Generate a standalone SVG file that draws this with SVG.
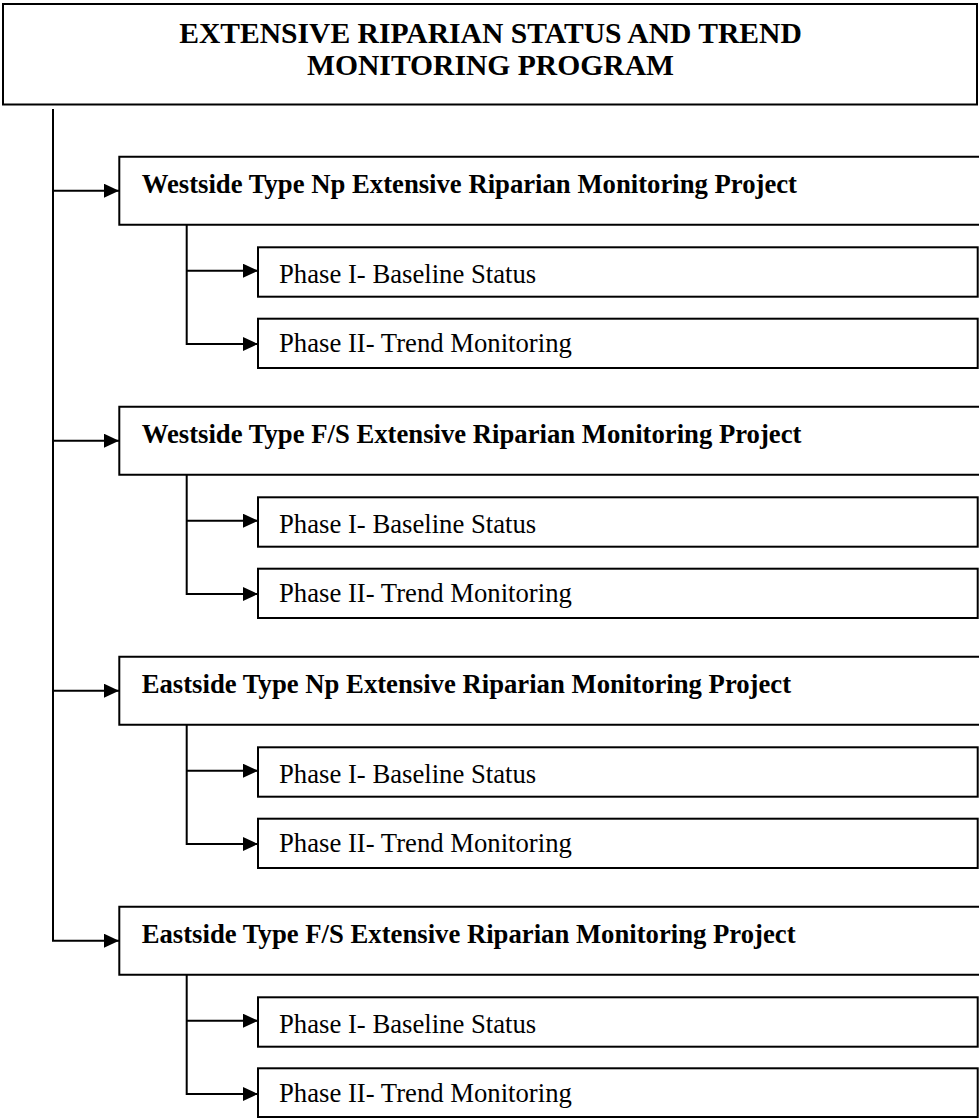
<svg xmlns="http://www.w3.org/2000/svg" width="979" height="1118" viewBox="0 0 979 1118">
<defs>
<style>
.box{fill:#fff;stroke:#000;stroke-width:2}
.open{fill:none;stroke:#000;stroke-width:2}
.con{fill:none;stroke:#000;stroke-width:2}
.title{font-family:"Liberation Serif","Times New Roman",serif;font-weight:bold;font-size:29.6px;fill:#000}
.proj{font-family:"Liberation Serif","Times New Roman",serif;font-weight:bold;font-size:26.7px;fill:#000}
.phase{font-family:"Liberation Serif","Times New Roman",serif;font-size:26.7px;fill:#000}
</style>
<marker id="ah" markerUnits="userSpaceOnUse" markerWidth="15" markerHeight="14" refX="15" refY="7" orient="auto">
<path d="M0,0 L15,7 L0,14 Z" fill="#000"/>
</marker>
</defs>
<rect width="979" height="1118" fill="#fff"/>

<g id="connectors">
<path class="con" d="M53,109 V940.7 H119" marker-end="url(#ah)"/>
<path class="con" d="M53,190.7 H119" marker-end="url(#ah)"/>
<path class="con" d="M53,440.7 H119" marker-end="url(#ah)"/>
<path class="con" d="M53,690.7 H119" marker-end="url(#ah)"/>

<path class="con" d="M186.7,224.7 V344 H258" marker-end="url(#ah)"/>
<path class="con" d="M186.7,270.7 H258" marker-end="url(#ah)"/>
<path class="con" d="M186.7,474.7 V594 H258" marker-end="url(#ah)"/>
<path class="con" d="M186.7,520.7 H258" marker-end="url(#ah)"/>
<path class="con" d="M186.7,724.7 V844 H258" marker-end="url(#ah)"/>
<path class="con" d="M186.7,770.7 H258" marker-end="url(#ah)"/>
<path class="con" d="M186.7,974.7 V1094 H258" marker-end="url(#ah)"/>
<path class="con" d="M186.7,1020.7 H258" marker-end="url(#ah)"/>
</g>

<g id="title">
<rect class="box" x="3" y="4" width="974" height="100.5"/>
<text class="title" x="490.5" y="42.7" text-anchor="middle">EXTENSIVE RIPARIAN STATUS AND TREND</text>
<text class="title" x="490.5" y="74.5" text-anchor="middle">MONITORING PROGRAM</text>
</g>

<g id="proj1">
<path class="open" d="M985,156.7 H119.3 V224.7 H985"/>
<text class="proj" x="141.7" y="192.7">Westside Type Np Extensive Riparian Monitoring Project</text>
</g>
<g id="proj1-phase1">
<rect class="box" x="258" y="247.3" width="719.7" height="49.4"/>
<text class="phase" x="279" y="283">Phase I- Baseline Status</text>
</g>
<g id="proj1-phase2">
<rect class="box" x="258" y="318.7" width="719.7" height="49.3"/>
<text class="phase" x="279" y="351.7">Phase II- Trend Monitoring</text>
</g>

<g id="proj2">
<path class="open" d="M985,406.7 H119.3 V474.7 H985"/>
<text class="proj" x="141.7" y="442.7">Westside Type F/S Extensive Riparian Monitoring Project</text>
</g>
<g id="proj2-phase1">
<rect class="box" x="258" y="497.3" width="719.7" height="49.4"/>
<text class="phase" x="279" y="533">Phase I- Baseline Status</text>
</g>
<g id="proj2-phase2">
<rect class="box" x="258" y="568.7" width="719.7" height="49.3"/>
<text class="phase" x="279" y="601.7">Phase II- Trend Monitoring</text>
</g>

<g id="proj3">
<path class="open" d="M985,656.7 H119.3 V724.7 H985"/>
<text class="proj" x="141.7" y="692.7">Eastside Type Np Extensive Riparian Monitoring Project</text>
</g>
<g id="proj3-phase1">
<rect class="box" x="258" y="747.3" width="719.7" height="49.4"/>
<text class="phase" x="279" y="783">Phase I- Baseline Status</text>
</g>
<g id="proj3-phase2">
<rect class="box" x="258" y="818.7" width="719.7" height="49.3"/>
<text class="phase" x="279" y="851.7">Phase II- Trend Monitoring</text>
</g>

<g id="proj4">
<path class="open" d="M985,906.7 H119.3 V974.7 H985"/>
<text class="proj" x="141.7" y="942.7">Eastside Type F/S Extensive Riparian Monitoring Project</text>
</g>
<g id="proj4-phase1">
<rect class="box" x="258" y="997.3" width="719.7" height="49.4"/>
<text class="phase" x="279" y="1033">Phase I- Baseline Status</text>
</g>
<g id="proj4-phase2">
<rect class="box" x="258" y="1068.3" width="719.7" height="48.7"/>
<text class="phase" x="279" y="1101.7">Phase II- Trend Monitoring</text>
</g>
</svg>
